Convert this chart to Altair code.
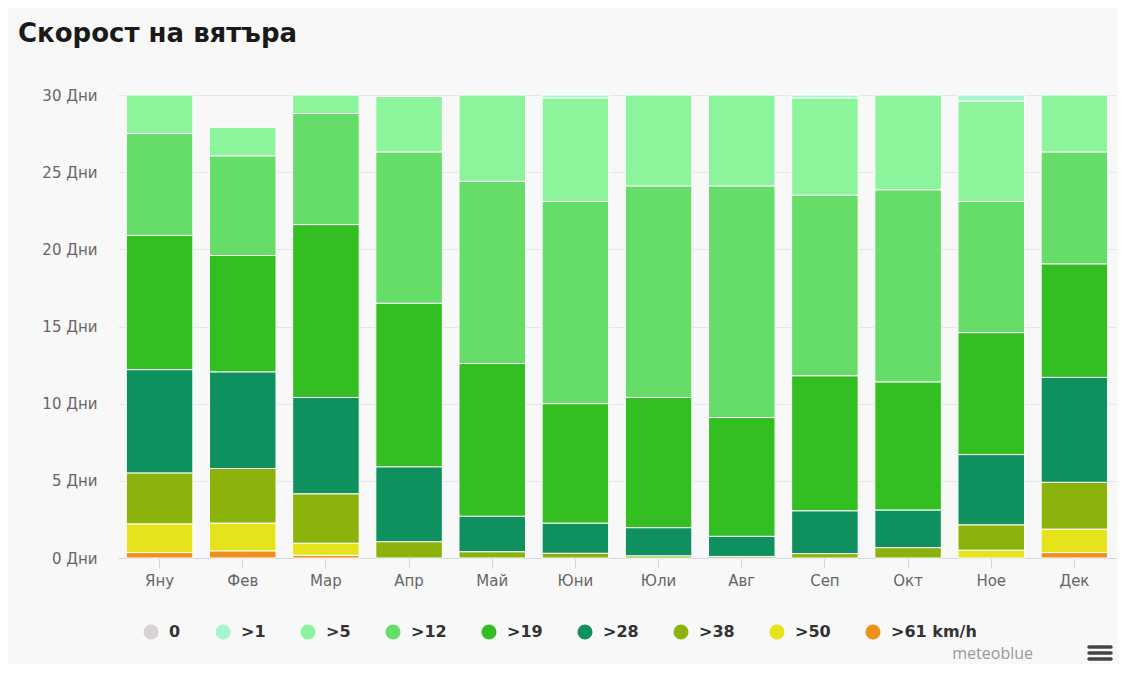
import altair as alt
import pandas as pd

months = ["Яну", "Фев", "Мар", "Апр", "Май", "Юни", "Юли", "Авг", "Сеп", "Окт", "Ное", "Дек"]
classes = ["0", ">1", ">5", ">12", ">19", ">28", ">38", ">50", ">61 km/h"]
colors = ["#d6d2d6", "#a6f6cb", "#8cf59c", "#66dc69", "#33bf22", "#0f915f", "#8cb30c", "#e6e21b", "#f0901a"]

# days per wind class and month
d_0 = [0, 0, 0, 0, 0, 0, 0, 0, 0, 0, 0, 0]
d_1 = [0, 0, 0, 0, 0, 0.2, 0, 0, 0.2, 0, 0.4, 0]
d_5 = [2.5, 1.85, 1.2, 3.6, 5.6, 6.7, 5.9, 5.9, 6.3, 6.15, 6.5, 3.7]
d_12 = [6.6, 6.45, 7.2, 9.8, 11.8, 13.1, 13.7, 15.0, 11.7, 12.45, 8.5, 7.25]
d_19 = [8.7, 7.55, 11.2, 10.6, 9.9, 7.75, 8.44, 7.7, 8.75, 8.3, 7.9, 7.35]
d_28 = [6.7, 6.25, 6.25, 4.85, 2.3, 1.95, 1.83, 1.3, 2.77, 2.43, 4.56, 6.8]
d_38 = [3.3, 3.55, 3.2, 1.05, 0.4, 0.3, 0.13, 0.1, 0.28, 0.67, 1.64, 3.04]
d_50 = [1.85, 1.8, 0.78, 0, 0, 0, 0, 0, 0, 0, 0.5, 1.51]
d_61 = [0.35, 0.45, 0.17, 0, 0, 0, 0, 0, 0, 0, 0, 0.35]

series = [d_0, d_1, d_5, d_12, d_19, d_28, d_38, d_50, d_61]

rows = []
for ci, (cls, vals) in enumerate(zip(classes, series)):
    for m, v in zip(months, vals):
        if v > 0:
            rows.append({"month": m, "cls": cls, "days": v, "order": len(classes) - ci})
df = pd.DataFrame(rows)

FONT = "DejaVu Sans"

bars = alt.Chart(df).mark_bar(stroke="white", strokeWidth=1).encode(
    x=alt.X("month:N", sort=months, title=None,
            scale=alt.Scale(paddingInner=0.2, paddingOuter=0.1),
            axis=alt.Axis(labelAngle=0, labelColor="#666666", labelFontSize=15, labelFont=FONT,
                          tickSize=10, tickColor="#ccd6eb", domainColor="#ccd6eb",
                          labelPadding=5, grid=False)),
    y=alt.Y("days:Q", stack="zero", title=None,
            scale=alt.Scale(domain=[0, 30], nice=False),
            axis=alt.Axis(values=[0, 5, 10, 15, 20, 25, 30], labelExpr="datum.value + ' Дни'",
                          labelColor="#666666", labelFontSize=15, labelFont=FONT,
                          ticks=False, domain=False, labelPadding=21,
                          gridColor="#e6e6e6")),
    color=alt.Color("cls:N", scale=alt.Scale(domain=classes, range=colors),
                    legend=alt.Legend(orient="none", legendX=25, legendY=529, direction="horizontal",
                                      title=None, symbolType="circle", symbolSize=227,
                                      symbolStrokeWidth=0, labelFontSize=16, labelFontWeight="bold",
                                      labelColor="#333333", labelFont=FONT, columnPadding=34,
                                      labelOffset=10)),
    order=alt.Order("order:Q", sort="ascending"),
)

brand = alt.Chart(pd.DataFrame({"t": ["meteoblue"]})).mark_text(
    align="right", baseline="alphabetic", fontSize=16, color="#999999", font="Open Sans"
).encode(text="t:N", x=alt.value(915), y=alt.value(564))

menu_top = alt.Chart().mark_rule(color="#444444", strokeWidth=3.5, strokeCap="round").encode(
    x=alt.value(971), x2=alt.value(993), y=alt.value(552))
menu_mid = alt.Chart().mark_rule(color="#444444", strokeWidth=3.5, strokeCap="round").encode(
    x=alt.value(971), x2=alt.value(993), y=alt.value(558))
menu_bot = alt.Chart().mark_rule(color="#444444", strokeWidth=3.5, strokeCap="round").encode(
    x=alt.value(971), x2=alt.value(993), y=alt.value(564))

chart = alt.layer(bars, brand, menu_top, menu_mid, menu_bot).properties(
    width=998, height=463,
    title=alt.TitleParams("Скорост на вятъра", anchor="start", frame="group", fontSize=26,
                          fontWeight="bold", font="DejaVu Sans", color="#1a1a1a", dx=-100, offset=41),
    background="#f8f8f8",
    padding={"left": 110, "top": 87, "right": 2, "bottom": 106},
    autosize=alt.AutoSizeParams(type="none"),
).configure_view(stroke=None)

chart.save("out.html", embed_options={"renderer": "svg", "actions": False})
